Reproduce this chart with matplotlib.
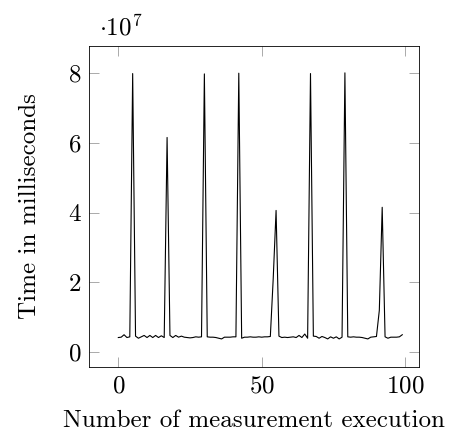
import matplotlib

matplotlib.use("Agg")
import matplotlib.pyplot as plt
from matplotlib.ticker import FuncFormatter
import numpy as np

plt.rcParams["font.family"] = "serif"
plt.rcParams["font.serif"] = ["cmr10", "DejaVu Serif"]
plt.rcParams["mathtext.fontset"] = "cm"
plt.rcParams["axes.formatter.use_mathtext"] = True

run_times_e7 = [
    0.42, 0.43, 0.50, 0.42, 0.44, 7.98, 0.46, 0.40, 0.44, 0.48,
    0.42, 0.48, 0.42, 0.48, 0.42, 0.47, 0.42, 6.15, 0.48, 0.42,
    0.48, 0.43, 0.46, 0.43, 0.42, 0.41, 0.42, 0.44, 0.43, 0.44,
    7.97, 0.44, 0.43, 0.43, 0.42, 0.40, 0.38, 0.43, 0.43, 0.43,
    0.44, 0.44, 7.99, 0.40, 0.43, 0.43, 0.44, 0.43, 0.43, 0.44,
    0.43, 0.44, 0.44, 0.45, 2.10, 4.06, 0.46, 0.42, 0.43, 0.42,
    0.43, 0.44, 0.42, 0.48, 0.42, 0.52, 0.40, 7.98, 0.46, 0.45,
    0.40, 0.45, 0.42, 0.38, 0.44, 0.40, 0.44, 0.38, 0.43, 8.00,
    0.44, 0.43, 0.44, 0.43, 0.43, 0.42, 0.40, 0.38, 0.43, 0.44,
    0.45, 1.20, 4.15, 0.44, 0.40, 0.43, 0.43, 0.43, 0.44, 0.50,
]
run_index = np.arange(len(run_times_e7))
run_times = np.array(run_times_e7) * 1e7

x_ticks = [0, 50, 100]
y_ticks = [0, 2e7, 4e7, 6e7, 8e7]

fig = plt.figure(figsize=(4.63, 4.42), dpi=100)
ax = fig.add_axes([0.193, 0.170, 0.713, 0.726])

ax.plot(run_index, run_times, color="black", lw=0.8)

ax.set_xlim(-10.1, 105)
ax.set_ylim(-0.42e7, 8.77e7)
ax.set_xticks(x_ticks)
ax.set_yticks(y_ticks)
ax.yaxis.set_major_formatter(FuncFormatter(lambda v, p: f"{v / 1e7:g}"))

ax.tick_params(direction="in", length=7.5, width=0.5, color="#888888",
               top=True, right=True, labelsize=18, pad=6)
for s in ax.spines.values():
    s.set_linewidth(0.6)

ax.set_xlabel("Number of measurement execution", fontsize=18, labelpad=9)
ax.set_ylabel("Time in milliseconds", fontsize=18, labelpad=20)
fig.text(0.214, 0.921, r"$\cdot 10^{7}$", fontsize=18, va="baseline")

fig.savefig("out.png", dpi=100, facecolor="white")
